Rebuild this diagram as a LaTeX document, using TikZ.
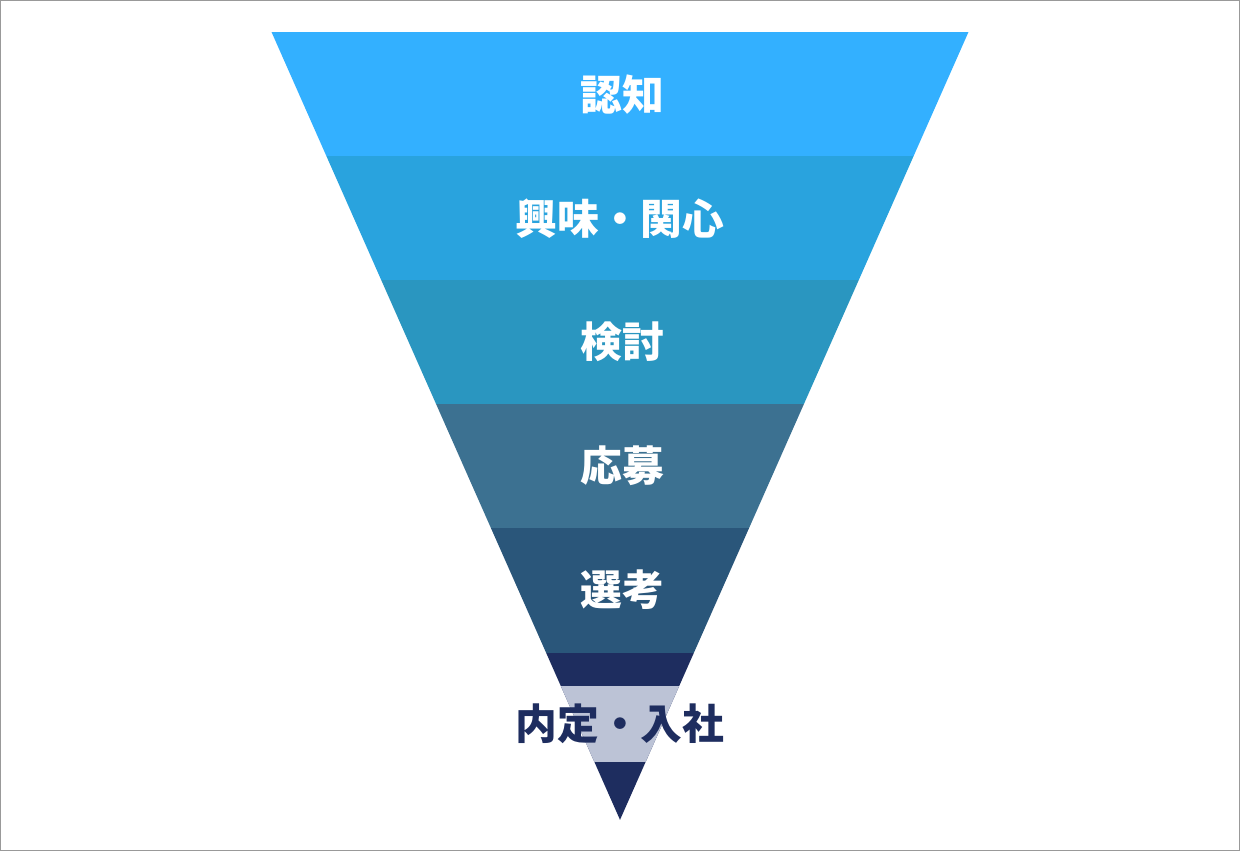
\documentclass[tikz,border=0pt]{standalone}
\usepackage{fontspec}
\newfontfamily\cjk{Noto Sans CJK JP}
\definecolor{stageA}{HTML}{33B0FF}
\definecolor{stageB}{HTML}{29A3DE}
\definecolor{stageC}{HTML}{2A96C0}
\definecolor{stageD}{HTML}{3C7191}
\definecolor{stageE}{HTML}{2A567A}
\definecolor{stageF}{HTML}{1E2D5F}
\definecolor{stageLight}{HTML}{BCC3D6}
\begin{document}
\begin{tikzpicture}[x=0.02cm,y=-0.02cm,
    stagelabel/.style={font=\cjk\bfseries\fontsize{23.8}{28}\selectfont,text=white,inner sep=0pt},
    lastlabel/.style={stagelabel,text=stageF}]
    % frame
    \draw[gray!80,line width=0.6pt,fill=white] (0,0) rectangle (1240,851);
    \useasboundingbox (0,0) rectangle (1240,851);
    % funnel bands
    \begin{scope}
      \clip (271,31) -- (969,31) -- (620,820) -- cycle;
      \fill[stageA] (260,31) rectangle (980,156);
      \fill[stageB] (260,156) rectangle (980,280);
      \fill[stageC] (260,280) rectangle (980,404);
      \fill[stageD] (260,404) rectangle (980,528);
      \fill[stageE] (260,528) rectangle (980,653);
      \fill[stageF] (260,653) rectangle (980,830);
      \fill[stageLight] (260,686) rectangle (980,762);
    \end{scope}
    % labels
    \node[stagelabel] (ninchi) at (622,94) {認知};
    \node[stagelabel] (kyomi) at (620,218) {興味・関心};
    \node[stagelabel] (kento) at (622,342) {検討};
    \node[stagelabel] (obo) at (622,466) {応募};
    \node[stagelabel] (senko) at (622,590) {選考};
    \node[lastlabel] (naitei) at (620,724) {内定・入社};
\end{tikzpicture}
\end{document}
